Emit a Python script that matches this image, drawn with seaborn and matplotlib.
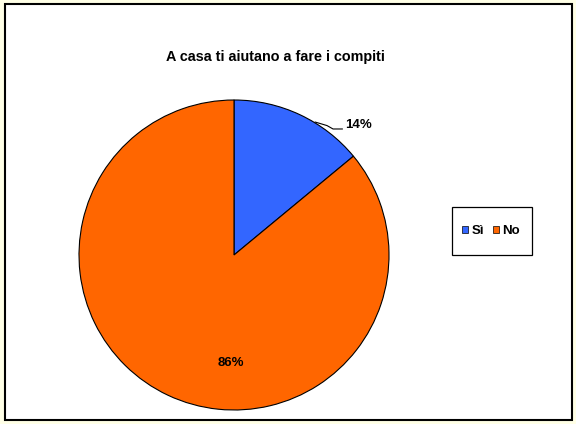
import matplotlib
matplotlib.use("Agg")
import matplotlib.pyplot as plt
import seaborn as sns
from matplotlib.patches import Rectangle, Patch

sns.set_theme(style="white")
plt.rcParams['font.family'] = ['Liberation Sans', 'DejaVu Sans']
plt.rcParams['text.color'] = 'black'

categories = ["Sì", "No"]
values = [14, 86]
colors = ["#3366FF", "#FF6600"]
title = "A casa ti aiutano a fare i compiti"

W, H = 576, 424
fig = plt.figure(figsize=(W / 100, H / 100), dpi=100, facecolor="#FFFFE6")
fig.patches.append(Rectangle((5 / W, 4 / H), 567 / W, 416 / H, transform=fig.transFigure,
                             facecolor="white", edgecolor="black", linewidth=1.5, zorder=-5))

cx, cy, r = 234, 255, 155
ax = fig.add_axes([(cx - r) / W, (H - cy - r) / H, 2 * r / W, 2 * r / H])
ax.set_facecolor("none")
ax.set_zorder(2)
wedges, _ = ax.pie(values, colors=colors, startangle=90, counterclock=False,
                   wedgeprops=dict(edgecolor="black", linewidth=0.8))
ax.set_xlim(-1, 1)
ax.set_ylim(-1, 1)
ax.axis("off")

# labels
ax.text(0.715, 0.839, f"{values[0]}%", ha="left", va="center", fontsize=9.5, fontweight="bold")
ax.plot([0.523, 0.60, 0.639, 0.70], [0.858, 0.835, 0.813, 0.813], color="black",
        linewidth=0.8, clip_on=False)
ax.text(-0.02, -0.70, f"{values[1]}%", ha="center", va="center", fontsize=9.5, fontweight="bold")

fig.text(275 / W, 1 - 57 / H, title, ha="center", va="center", fontsize=10.4, fontweight="bold")

# legend box
fig.patches.append(Rectangle((452 / W, 1 - 255 / H), 80 / W, 48 / H, transform=fig.transFigure,
                             facecolor="white", edgecolor="black", linewidth=0.9, zorder=1))
handles = [Patch(facecolor=c, edgecolor="black", linewidth=0.5) for c in colors]
leg = fig.legend(handles, categories, loc="center", bbox_to_anchor=(491 / W, 1 - 231.5 / H),
                 ncol=2, frameon=False,
                 prop=dict(weight="bold", size=9.5), handlelength=0.45, handleheight=0.45,
                 handletextpad=0.25, columnspacing=0.65, borderpad=0, borderaxespad=0)
leg.set_zorder(3)

fig.savefig("out.png", dpi=100, facecolor=fig.get_facecolor())
